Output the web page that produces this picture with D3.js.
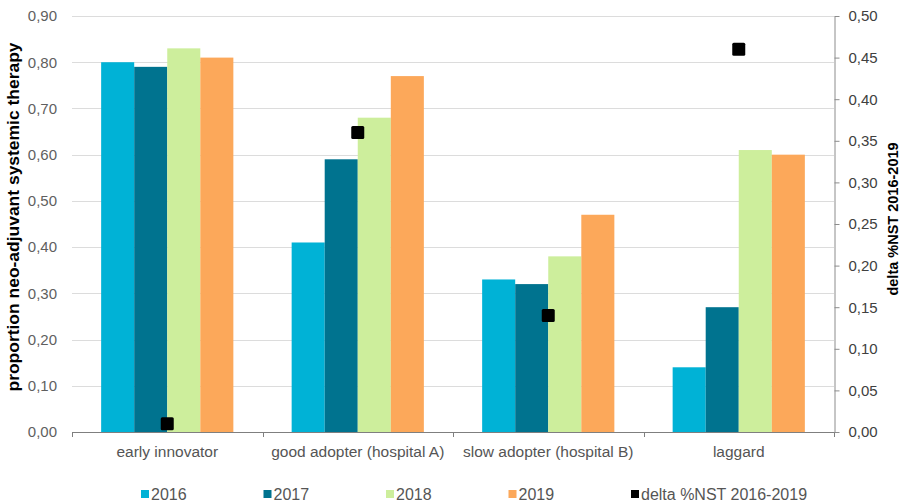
<!DOCTYPE html>
<html>
<head>
<meta charset="utf-8">
<script src="https://cdn.jsdelivr.net/npm/d3@7"></script>
<style>
  html, body { margin: 0; padding: 0; background: #fff; }
  svg text { font-family: "Liberation Sans", Arial, sans-serif; }
</style>
</head>
<body>
<svg id="chart" width="901" height="504"></svg>
<script>
// Hospital adoption groups and yearly share of neo-adjuvant systemic therapy
const categories = ["early innovator", "good adopter (hospital A)", "slow adopter (hospital B)", "laggard"];
const years = ["2016", "2017", "2018", "2019"];
const values2016 = [0.80, 0.41, 0.33, 0.14];
const values2017 = [0.79, 0.59, 0.32, 0.27];
const values2018 = [0.83, 0.68, 0.38, 0.61];
const values2019 = [0.81, 0.77, 0.47, 0.60];
const deltaNST = [0.01, 0.36, 0.14, 0.46];
const leftTicks = [0, 0.1, 0.2, 0.3, 0.4, 0.5, 0.6, 0.7, 0.8, 0.9];
const rightTicks = [0, 0.05, 0.1, 0.15, 0.2, 0.25, 0.3, 0.35, 0.4, 0.45, 0.5];
const yearColors = ["#00b2d6", "#00738f", "#cdee9c", "#fca85a"];
const deltaLabel = "delta %NST 2016-2019";

const seriesByYear = [values2016, values2017, values2018, values2019];

const svg = d3.select("#chart");
const plot = { left: 72, right: 834, top: 16, bottom: 432 };

const x0 = d3.scaleBand().domain(categories).range([plot.left, plot.right]).padding(0);
const groupFrac = 0.694;
const x1 = d3.scaleBand().domain(years)
  .range([x0.bandwidth() * (1 - groupFrac) / 2, x0.bandwidth() * (1 + groupFrac) / 2])
  .padding(0);
const yL = d3.scaleLinear().domain([0, 0.9]).range([plot.bottom, plot.top]);
const yR = d3.scaleLinear().domain([0, 0.5]).range([plot.bottom, plot.top]);
const fmt = v => d3.format(".2f")(v).replace(".", ",");

// horizontal gridlines
svg.append("g")
  .selectAll("line")
  .data(leftTicks.filter(t => t > 0))
  .join("line")
  .attr("x1", plot.left).attr("x2", plot.right)
  .attr("y1", d => Math.round(yL(d)) + 0.5).attr("y2", d => Math.round(yL(d)) + 0.5)
  .attr("stroke", "#dcdcdc").attr("stroke-width", 1);

// left axis (labels only)
const leftAxis = d3.axisLeft(yL).tickValues(leftTicks).tickFormat(fmt).tickSize(0).tickPadding(15);
const gL = svg.append("g").attr("transform", `translate(${plot.left},0)`).call(leftAxis);
gL.select(".domain").remove();
gL.selectAll("text").attr("font-size", 15).attr("fill", "#5f5f5f");

// bars
const groups = svg.append("g").selectAll("g")
  .data(categories)
  .join("g")
  .attr("transform", d => `translate(${x0(d)},0)`);
groups.selectAll("rect")
  .data((c, i) => years.map((yr, j) => ({ yr, j, v: seriesByYear[j][i] })))
  .join("rect")
  .attr("x", d => x1(d.yr))
  .attr("width", x1.bandwidth())
  .attr("y", d => yL(d.v))
  .attr("height", d => plot.bottom - yL(d.v))
  .attr("fill", d => yearColors[d.j]);

// category axis
const bottomAxis = d3.axisBottom(x0).tickSize(0).tickPadding(14);
const gB = svg.append("g").attr("transform", `translate(0,${plot.bottom})`).call(bottomAxis);
gB.select(".domain").attr("stroke", "#7f7f7f").attr("d", `M${plot.left},0.5H${plot.right}`);
gB.selectAll("text").attr("font-size", 15.5).attr("fill", "#555");
svg.append("g").selectAll("line")
  .data(categories.map(c => x0(c)).concat([plot.right]))
  .join("line")
  .attr("x1", d => Math.round(d) + 0.5).attr("x2", d => Math.round(d) + 0.5)
  .attr("y1", plot.bottom).attr("y2", plot.bottom + 5)
  .attr("stroke", "#7f7f7f");

// right axis
const rightAxis = d3.axisRight(yR).tickValues(rightTicks).tickFormat(fmt).tickSizeInner(5).tickSizeOuter(0).tickPadding(9);
const gR = svg.append("g").attr("transform", `translate(${plot.right + 0.5},0)`).call(rightAxis);
gR.select(".domain").attr("stroke", "#8c8c8c");
gR.selectAll(".tick line").attr("stroke", "#8c8c8c");
gR.selectAll("text").attr("font-size", 15).attr("fill", "#404040");

// delta markers on the right scale
const ms = 13;
svg.append("g").selectAll("rect")
  .data(categories.map((c, i) => ({ c, v: deltaNST[i] })))
  .join("rect")
  .attr("x", d => x0(d.c) + x0.bandwidth() / 2 - ms / 2)
  .attr("y", d => yR(d.v) - ms / 2)
  .attr("width", ms).attr("height", ms)
  .attr("rx", 1.5)
  .attr("fill", "#000");

// axis titles
svg.append("text")
  .attr("transform", `translate(19,217) rotate(-90)`)
  .attr("text-anchor", "middle")
  .attr("font-size", 16.5).attr("font-weight", "bold").attr("fill", "#000")
  .attr("textLength", 349).attr("lengthAdjust", "spacingAndGlyphs")
  .text("proportion neo-adjuvant systemic therapy");
svg.append("text")
  .attr("transform", `translate(898,219) rotate(-90)`)
  .attr("text-anchor", "middle")
  .attr("font-size", 14.5).attr("font-weight", "bold").attr("fill", "#000")
  .text(deltaLabel);

// legend
const legendItems = years.map((yr, j) => ({ label: yr, color: yearColors[j] }))
  .concat([{ label: deltaLabel, color: "#000" }]);
const leg = svg.append("g").selectAll("g")
  .data(legendItems)
  .join("g")
  .attr("transform", (d, i) => `translate(${141 + i * 122.5},494)`);
leg.append("rect").attr("x", 0).attr("y", -4).attr("width", 8).attr("height", 8).attr("fill", d => d.color);
leg.append("text").attr("x", 10).attr("y", 0).attr("dy", "0.35em")
  .attr("font-size", 16).attr("fill", "#555")
  .text(d => d.label);
</script>
</body>
</html>
